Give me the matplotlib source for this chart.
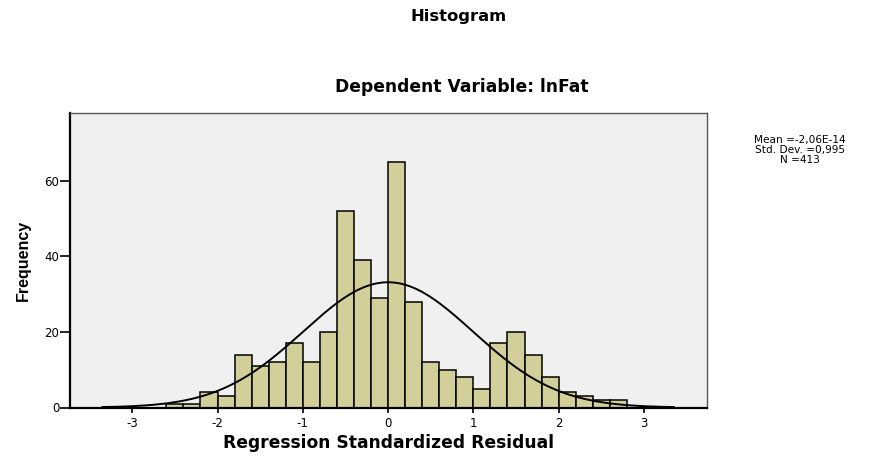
"""SPSS-style residual histogram with a fitted normal curve."""

import matplotlib
matplotlib.use("Agg")
import matplotlib.pyplot as plt
import numpy as np

# bin left edges (width 0.2) and counts
bin_left = [-2.6, -2.4, -2.2, -2.0, -1.8, -1.6, -1.4, -1.2, -1.0, -0.8,
            -0.6, -0.4, -0.2, 0.0, 0.2, 0.4, 0.6, 0.8, 1.0, 1.2,
            1.4, 1.6, 1.8, 2.0, 2.2, 2.4, 2.6]
counts = [1, 1, 4, 3, 14, 11, 12, 17, 12, 20,
          52, 39, 29, 65, 28, 12, 10, 8, 5, 17,
          20, 14, 8, 4, 3, 2, 2]
bin_width = 0.2

# summary stats printed on the chart
mean = -2.06e-14
std_dev = 0.995
n_obs = 413

x_ticks = [-3, -2, -1, 0, 1, 2, 3]
y_ticks = [0, 20, 40, 60]

# the original export is stretched sideways, so a wide face fits better
WIDE = ["DejaVu Sans"]
plt.rcParams["font.family"] = ["Liberation Sans", "DejaVu Sans"]

fig = plt.figure(figsize=(8.85, 4.58), dpi=100)
ax = fig.add_axes([70 / 885, 1 - 407.5 / 458, 637 / 885, 295 / 458])

ax.set_facecolor("#F0F0F0")
ax.bar(bin_left, counts, width=bin_width, align="edge",
       color="#D3CF9A", edgecolor="black", linewidth=1.1, zorder=2)

# normal curve scaled to the histogram, from the mean / sd / N above
xs = np.linspace(-3.35, 3.35, 300)
pdf = np.exp(-0.5 * ((xs - mean) / std_dev) ** 2) / (std_dev * np.sqrt(2 * np.pi))
ax.plot(xs, n_obs * bin_width * pdf, color="black", linewidth=1.4, zorder=3)

ax.set_xlim(-3.73, 3.74)
ax.set_ylim(0, 78)
ax.set_xticks(x_ticks)
ax.set_xticklabels([f"{t}" for t in x_ticks], family=WIDE, fontsize=8.5)
ax.set_yticks(y_ticks)
ax.set_yticklabels([f"{t}" for t in y_ticks], family=WIDE, fontsize=8.5)
ax.tick_params(axis="x", direction="out", length=3.8, width=1.2, pad=3)
ax.tick_params(axis="y", direction="out", length=7.2, width=1.2, pad=0.5)

for side in ("left", "bottom"):
    ax.spines[side].set_linewidth(1.6)
    ax.spines[side].set_color("black")
for side in ("top", "right"):
    ax.spines[side].set_linewidth(1.0)
    ax.spines[side].set_color("#555555")

ax.set_xlabel("Regression Standardized Residual", family=WIDE, fontsize=12.3,
              fontweight="bold", labelpad=3)
ax.set_ylabel("Frequency", fontsize=11.5, fontweight="heavy", labelpad=10)

fig.text(459 / 885, 1 - 16 / 458, "Histogram", family=WIDE, ha="center",
         va="center", fontsize=11.8, fontweight="bold")
fig.text(462 / 885, 1 - 87 / 458, "Dependent Variable: lnFat", family=WIDE,
         ha="center", va="center", fontsize=12.3, fontweight="bold")

stats = f"Mean =-2,06E-14\nStd. Dev. =0,995\nN ={n_obs}"
fig.text(800 / 885, 1 - 150 / 458, stats, family=WIDE, ha="center",
         va="center", fontsize=7.6, linespacing=1.0, multialignment="center")

fig.savefig("out.png", dpi=100)
plt.close(fig)
